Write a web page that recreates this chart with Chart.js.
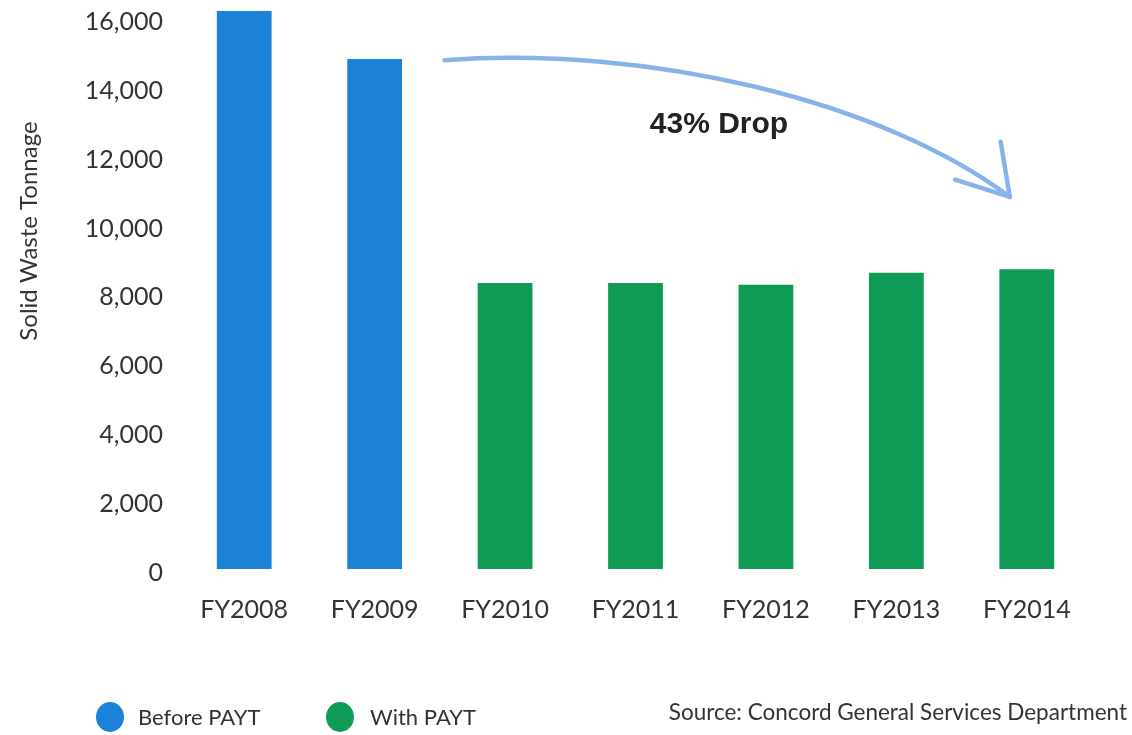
<!DOCTYPE html>
<html>
<head>
<meta charset="utf-8">
<script src="https://cdn.jsdelivr.net/npm/chart.js@4.4.1/dist/chart.umd.min.js"></script>
<style>
  html, body { margin: 0; padding: 0; background: #ffffff; }
  #wrap { position: relative; width: 1132px; height: 735px; }
</style>
</head>
<body>
<div id="wrap"><canvas id="c" width="1132" height="735"></canvas></div>
<script>
// ---- data ----
const categories = ["FY2008", "FY2009", "FY2010", "FY2011", "FY2012", "FY2013", "FY2014"];
const tonnage = [16200, 14800, 8300, 8300, 8250, 8600, 8700];
const phase = ["before", "before", "with", "with", "with", "with", "with"];
const legendLabels = ["Before PAYT", "With PAYT"];
const yTicks = [0, 2000, 4000, 6000, 8000, 10000, 12000, 14000, 16000];
const yTitle = "Solid Waste Tonnage";
const annotationText = "43% Drop";
const sourceText = "Source: Concord General Services Department";

// ---- styles ----
const BLUE = "#1b82d8";
const GREEN = "#0f9b55";
const ARROW = "#86b4ea";
const TEXT = "#333333";
const FONT = "Lato, 'Noto Sans', sans-serif";

// annotation arrow, in data space (category index, value)
const arrowCurve = [
  { i: 1.535, v: 14770 },  // start
  { i: 3.1,   v: 15200 },  // control 1
  { i: 4.88,  v: 13600 },  // control 2
  { i: 5.87,  v: 10800 }   // tip
];
const arrowBarbs = [
  { i: 5.80, v: 12400 },
  { i: 5.45, v: 11300 }
];
const textAnchor = { i: 3.64, v: 12900 };

const colorFor = p => p === "before" ? BLUE : GREEN;

const decor = {
  id: "decor",
  afterDatasetsDraw(chart) {
    const { ctx, scales: { x, y } } = chart;
    const P = p => [x.getPixelForValue(p.i), y.getPixelForValue(p.v)];
    ctx.save();
    // arrow
    ctx.strokeStyle = ARROW;
    ctx.lineWidth = 4.5;
    ctx.lineCap = "round";
    ctx.lineJoin = "round";
    const [a, b, c, d] = arrowCurve.map(P);
    ctx.beginPath();
    ctx.moveTo(a[0], a[1]);
    ctx.bezierCurveTo(b[0], b[1], c[0], c[1], d[0], d[1]);
    ctx.stroke();
    arrowBarbs.map(P).forEach(pt => {
      ctx.beginPath();
      ctx.moveTo(pt[0], pt[1]);
      ctx.lineTo(d[0], d[1]);
      ctx.stroke();
    });
    // annotation text
    const t = P(textAnchor);
    ctx.fillStyle = "#222222";
    ctx.font = "bold 30px 'Liberation Sans', Arial, sans-serif";
    ctx.textAlign = "center";
    ctx.textBaseline = "middle";
    ctx.fillText(annotationText, t[0], t[1]);

    // y axis title
    ctx.save();
    ctx.translate(29, 231);
    ctx.rotate(-Math.PI / 2);
    ctx.fillStyle = TEXT;
    ctx.font = "24px " + FONT;
    ctx.textAlign = "center";
    ctx.textBaseline = "middle";
    ctx.fillText(yTitle, 0, 0);
    ctx.restore();

    // legend
    const items = [
      { label: legendLabels[0], color: BLUE, cx: 110, tx: 138 },
      { label: legendLabels[1], color: GREEN, cx: 340, tx: 370 }
    ];
    ctx.font = "22px " + FONT;
    ctx.textAlign = "left";
    ctx.textBaseline = "middle";
    items.forEach(it => {
      ctx.fillStyle = it.color;
      ctx.beginPath();
      ctx.ellipse(it.cx, 717, 14, 15, 0, 0, Math.PI * 2);
      ctx.fill();
      ctx.fillStyle = TEXT;
      ctx.fillText(it.label, it.tx, 718);
    });
    // source
    ctx.font = "22.5px " + FONT;
    ctx.textAlign = "right";
    ctx.fillStyle = TEXT;
    ctx.fillText(sourceText, 1127, 713);
    ctx.restore();
  }
};

new Chart(document.getElementById("c"), {
  type: "bar",
  data: {
    labels: categories,
    datasets: [{
      data: tonnage,
      backgroundColor: phase.map(colorFor),
      borderWidth: 0,
      categoryPercentage: 1.0,
      barPercentage: 0.42
    }]
  },
  options: {
    responsive: false,
    animation: false,
    devicePixelRatio: 1,
    layout: { padding: { left: 0, right: 40, top: 4, bottom: 105 } },
    plugins: { legend: { display: false }, tooltip: { enabled: false } },
    scales: {
      x: {
        grid: { display: false },
        border: { display: false },
        ticks: { color: TEXT, font: { family: FONT, size: 25 }, padding: 18, maxRotation: 0 },
        afterFit(s) { s.height = 61; s.paddingLeft = 0; s.paddingRight = 0; }
      },
      y: {
        min: 0,
        max: 16400,
        grid: { display: false },
        border: { display: false },
        afterBuildTicks(s) { s.ticks = yTicks.map(v => ({ value: v })); },
        ticks: {
          color: TEXT,
          font: { family: FONT, size: 25 },
          padding: 8,
          labelOffset: 4,
          callback: v => v.toLocaleString("en-US")
        },
        afterFit(s) { s.width = 179; s.paddingTop = 0; s.paddingBottom = 0; }
      }
    }
  },
  plugins: [decor]
});
</script>
</body>
</html>
